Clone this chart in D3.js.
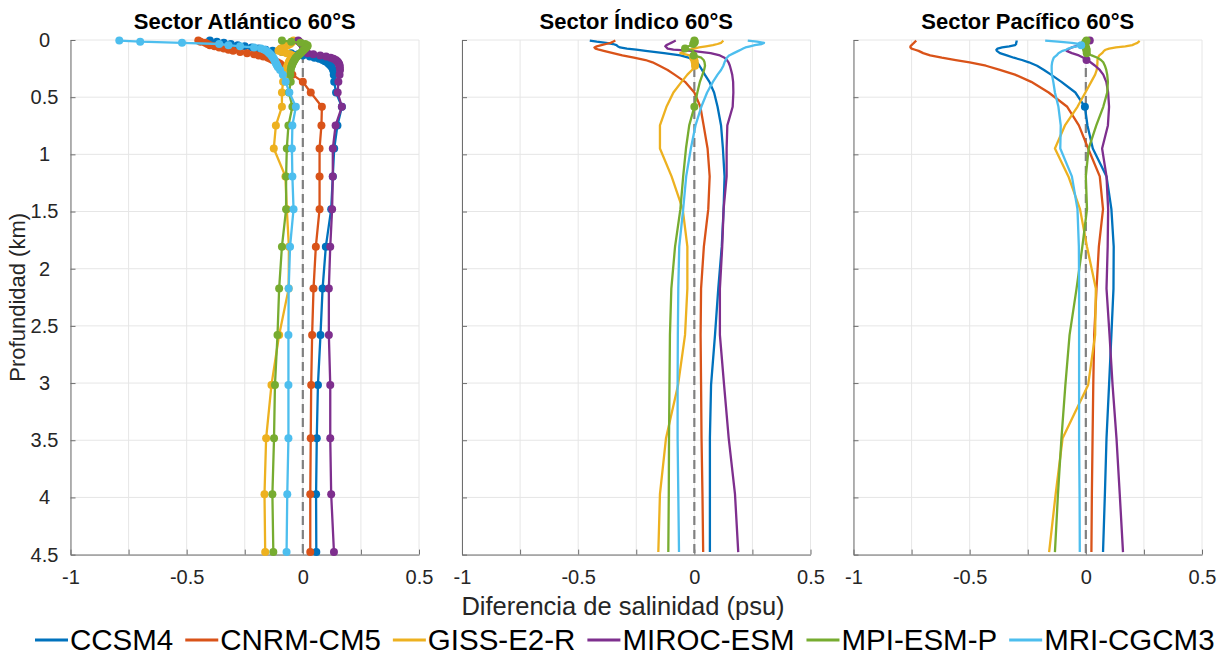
<!DOCTYPE html>
<html>
<head>
<meta charset="utf-8">
<script src="https://cdn.jsdelivr.net/npm/d3@7"></script>
<style>
  body { margin: 0; background: #fff; }
  svg { display: block; font-family: "Liberation Sans", Arial, Helvetica, sans-serif; }
</style>
</head>
<body>
<svg id="chart" width="1228" height="658"></svg>
<script>
// Model names and their line colours
const models = ["CCSM4", "CNRM-CM5", "GISS-E2-R", "MIROC-ESM", "MPI-ESM-P", "MRI-CGCM3"];
const colors = ["#0072BD", "#D95319", "#EDB120", "#7E2F8E", "#77AC30", "#4DBEEE"];
const panelTitles = ["Sector Atlántico 60°S", "Sector Índico 60°S", "Sector Pacífico 60°S"];

// Axis ticks
const xTicks = [-1, -0.75, -0.5, -0.25, 0, 0.25, 0.5];
const xTickLabels = ["-1", "", "-0.5", "", "0", "", "0.5"];
const yTicks = [0, 0.5, 1, 1.5, 2, 2.5, 3, 3.5, 4, 4.5];
const yTickLabels = ["0", "0.5", "1", "1.5", "2", "2.5", "3", "3.5", "4", "4.5"];

// Depth levels (km)
const depthA = [0.005, 0.015, 0.025, 0.035, 0.045, 0.055, 0.065, 0.075, 0.085, 0.095,
  0.105, 0.115, 0.125, 0.135, 0.145, 0.155, 0.165, 0.175, 0.185, 0.195,
  0.205, 0.215, 0.225, 0.238, 0.262, 0.303, 0.366, 0.459, 0.584, 0.747,
  0.949, 1.193, 1.479, 1.807, 2.174, 2.579, 3.016, 3.483, 3.972, 4.478];
const depthB = [0.005, 0.015, 0.025, 0.035, 0.045, 0.055, 0.065, 0.075, 0.085, 0.095,
  0.115, 0.135, 0.155, 0.175, 0.195, 0.225, 0.262, 0.303, 0.366, 0.459,
  0.584, 0.747, 0.949, 1.193, 1.479, 1.807, 2.174, 2.579, 3.016, 3.483, 3.972, 4.478];

// Salinity difference (psu), Atlantic sector, one row per model (depthA)
const atlantico = [
  [-0.40,-0.37,-0.34,-0.31,-0.28,-0.25,-0.22,-0.19,-0.16,-0.13,-0.09,-0.05,-0.02,0.00,0.03,0.05,0.07,0.085,0.095,0.105,0.11,0.115,0.12,0.125,0.13,0.133,0.135,0.143,0.168,0.149,0.135,0.129,0.122,0.099,0.085,0.076,0.065,0.060,0.057,0.058],
  [-0.45,-0.44,-0.42,-0.41,-0.40,-0.38,-0.36,-0.34,-0.32,-0.30,-0.27,-0.24,-0.21,-0.19,-0.17,-0.15,-0.14,-0.13,-0.12,-0.11,-0.10,-0.095,-0.09,-0.08,-0.065,-0.045,0.0,0.034,0.082,0.080,0.072,0.072,0.072,0.056,0.046,0.040,0.036,0.034,0.032,0.032],
  [-0.04,-0.045,-0.05,-0.055,-0.065,-0.075,-0.085,-0.095,-0.10,-0.105,-0.09,-0.07,-0.055,-0.045,-0.042,-0.045,-0.05,-0.055,-0.058,-0.06,-0.062,-0.064,-0.066,-0.068,-0.072,-0.078,-0.085,-0.090,-0.090,-0.116,-0.125,-0.075,-0.069,-0.060,-0.061,-0.102,-0.135,-0.158,-0.165,-0.162],
  [-0.02,-0.015,-0.01,-0.005,0.0,0.0,0.005,0.005,0.005,0.008,0.01,0.02,0.045,0.075,0.10,0.12,0.132,0.142,0.148,0.152,0.155,0.157,0.158,0.159,0.160,0.158,0.153,0.150,0.168,0.141,0.129,0.129,0.126,0.118,0.112,0.112,0.118,0.118,0.122,0.134],
  [-0.09,-0.05,-0.01,0.01,0.02,0.02,0.015,0.01,0.005,0.0,-0.005,-0.01,-0.015,-0.02,-0.025,-0.03,-0.033,-0.036,-0.039,-0.042,-0.044,-0.046,-0.048,-0.05,-0.052,-0.054,-0.052,-0.060,-0.045,-0.062,-0.069,-0.072,-0.072,-0.090,-0.102,-0.109,-0.120,-0.124,-0.131,-0.127],
  [-0.79,-0.70,-0.52,-0.36,-0.32,-0.27,-0.21,-0.18,-0.165,-0.157,-0.15,-0.145,-0.14,-0.135,-0.132,-0.128,-0.125,-0.122,-0.12,-0.118,-0.115,-0.113,-0.11,-0.107,-0.098,-0.086,-0.074,-0.058,-0.030,-0.045,-0.047,-0.045,-0.040,-0.055,-0.061,-0.062,-0.062,-0.062,-0.067,-0.070]
];

// Indian sector (depthB)
const indico = [
  [-0.45,-0.42,-0.38,-0.35,-0.335,-0.33,-0.32,-0.29,-0.25,-0.21,-0.13,-0.06,-0.025,0.0,0.012,0.022,0.033,0.045,0.065,0.085,0.10,0.115,0.123,0.13,0.126,0.118,0.103,0.089,0.072,0.067,0.067,0.067],
  [-0.34,-0.35,-0.36,-0.38,-0.40,-0.42,-0.43,-0.425,-0.41,-0.39,-0.35,-0.31,-0.26,-0.21,-0.18,-0.15,-0.115,-0.085,-0.04,0.0,0.026,0.04,0.057,0.066,0.06,0.041,0.029,0.027,0.029,0.031,0.035,0.038],
  [0.125,0.12,0.115,0.10,0.08,0.05,0.02,0.0,-0.02,-0.04,-0.06,-0.02,-0.005,0.0,0.002,0.003,-0.01,-0.03,-0.055,-0.09,-0.12,-0.148,-0.148,-0.098,-0.05,-0.03,-0.03,-0.04,-0.07,-0.122,-0.148,-0.155],
  [-0.08,-0.09,-0.10,-0.11,-0.12,-0.125,-0.12,-0.115,-0.09,-0.01,0.07,0.11,0.13,0.14,0.147,0.153,0.158,0.163,0.167,0.168,0.165,0.142,0.139,0.139,0.126,0.12,0.11,0.11,0.128,0.148,0.175,0.189],
  [0.0,0.002,0.0,-0.005,-0.012,-0.025,-0.035,-0.04,-0.02,-0.005,-0.005,-0.003,0.03,0.04,0.044,0.046,0.042,0.035,0.024,0.013,0.0,-0.022,-0.036,-0.048,-0.06,-0.083,-0.099,-0.105,-0.107,-0.109,-0.11,-0.112],
  [0.23,0.27,0.30,0.29,0.26,0.24,0.22,0.21,0.20,0.19,0.17,0.15,0.14,0.135,0.13,0.125,0.115,0.10,0.08,0.055,0.03,0.005,-0.015,-0.035,-0.048,-0.065,-0.069,-0.071,-0.072,-0.072,-0.069,-0.066]
];

// Pacific sector (depthB)
const pacifico = [
  [-0.298,-0.298,-0.30,-0.30,-0.305,-0.33,-0.36,-0.38,-0.385,-0.383,-0.37,-0.34,-0.31,-0.275,-0.245,-0.21,-0.18,-0.15,-0.105,-0.045,-0.004,0.007,0.03,0.089,0.11,0.12,0.119,0.11,0.10,0.089,0.082,0.074],
  [-0.73,-0.735,-0.74,-0.745,-0.75,-0.755,-0.755,-0.75,-0.735,-0.72,-0.70,-0.67,-0.62,-0.56,-0.50,-0.43,-0.37,-0.305,-0.235,-0.16,-0.08,-0.03,0.01,0.06,0.074,0.056,0.046,0.036,0.032,0.029,0.026,0.024],
  [0.23,0.228,0.222,0.21,0.20,0.17,0.13,0.10,0.085,0.078,0.07,0.058,0.052,0.05,0.05,0.049,0.047,0.04,0.023,-0.002,-0.036,-0.09,-0.133,-0.075,-0.025,0.005,0.043,0.04,0.01,-0.10,-0.13,-0.158],
  [0.017,0.005,-0.01,-0.02,-0.028,-0.045,-0.06,-0.07,-0.08,-0.083,-0.06,-0.03,-0.01,0.003,0.02,0.04,0.06,0.075,0.088,0.096,0.10,0.095,0.07,0.089,0.096,0.094,0.089,0.102,0.115,0.132,0.146,0.16],
  [0.003,0.0,-0.003,-0.005,-0.004,-0.002,0.0,0.002,0.003,0.003,0.004,0.025,0.05,0.065,0.075,0.082,0.088,0.092,0.095,0.092,0.075,0.045,0.012,0.0,0.005,-0.015,-0.04,-0.07,-0.088,-0.105,-0.12,-0.133],
  [-0.175,-0.12,-0.06,-0.03,-0.02,-0.04,-0.06,-0.075,-0.085,-0.10,-0.118,-0.126,-0.138,-0.142,-0.145,-0.147,-0.147,-0.146,-0.14,-0.133,-0.118,-0.108,-0.11,-0.06,-0.036,-0.03,-0.029,-0.029,-0.029,-0.029,-0.027,-0.026]
];

// Level indices that carry a marker in the Indian and Pacific panels
const indicoMarks = [[], [], [12, 13, 14, 15], [], [0, 1, 2, 3, 7, 11, 20], []];
const pacificoMarks = [[20], [], [], [0, 13], [0, 1, 2, 3, 4, 5, 6, 7, 8, 9, 10], [4]];

const panels = [
  { title: panelTitles[0], depth: depthA, values: atlantico, marks: null },
  { title: panelTitles[1], depth: depthB, values: indico, marks: indicoMarks },
  { title: panelTitles[2], depth: depthB, values: pacifico, marks: pacificoMarks }
];

const svg = d3.select("#chart");
const lefts = [70.5, 462, 853.5];
const pw = 348.5;
const plotTop = 40, plotBottom = 554.6;
const tickFont = 20;
const labelFont = 22;
const fontFamily = '"Liberation Sans", Arial, sans-serif';

const y = d3.scaleLinear().domain([0, 4.5]).range([plotTop, plotBottom]);

panels.forEach((p, pi) => {
  const x = d3.scaleLinear().domain([-1, 0.5]).range([lefts[pi], lefts[pi] + pw]);
  const g = svg.append("g");

  // grid
  g.selectAll("line.gx").data(xTicks).join("line")
    .attr("x1", d => x(d)).attr("x2", d => x(d))
    .attr("y1", plotTop).attr("y2", plotBottom)
    .attr("stroke", "#e6e6e6").attr("stroke-width", 1);
  g.selectAll("line.gy").data(yTicks).join("line")
    .attr("x1", x(-1)).attr("x2", x(0.5))
    .attr("y1", d => y(d)).attr("y2", d => y(d))
    .attr("stroke", "#e6e6e6").attr("stroke-width", 1);

  // axes (inward ticks, no box)
  const xAxis = d3.axisBottom(x).tickValues(xTicks)
    .tickFormat((d, i) => xTickLabels[i]).tickSizeInner(-5).tickSizeOuter(0).tickPadding(15);
  const ax = g.append("g").attr("transform", `translate(0,${plotBottom})`).call(xAxis);
  ax.select(".domain").attr("stroke", "#6e6e6e");
  ax.selectAll(".tick line").attr("stroke", "#6e6e6e");
  ax.selectAll("text").attr("font-size", tickFont).attr("fill", "#262626")
    .attr("font-family", fontFamily);

  const yAxis = d3.axisLeft(y).tickValues(yTicks)
    .tickFormat((d, i) => pi === 0 ? yTickLabels[i] : "").tickSizeInner(-5).tickSizeOuter(0).tickPadding(26);
  const ay = g.append("g").attr("transform", `translate(${lefts[pi]},0)`).call(yAxis);
  ay.select(".domain").attr("stroke", "#6e6e6e");
  ay.selectAll(".tick line").attr("stroke", "#6e6e6e");
  // depth labels sit centred in the margin column
  ay.selectAll("text").attr("font-size", tickFont).attr("fill", "#262626")
    .attr("font-family", fontFamily).attr("text-anchor", "middle");

  // zero reference
  g.append("line")
    .attr("x1", x(0)).attr("x2", x(0)).attr("y1", y(0)).attr("y2", y(4.5))
    .attr("stroke", "#808080").attr("stroke-width", 2.2).attr("stroke-dasharray", "9,5");

  const line = d3.line().x(d => x(d[0])).y(d => y(d[1]));

  p.values.forEach((vals, mi) => {
    const pts = vals.map((v, k) => [v, p.depth[k]]);
    g.append("path").datum(pts)
      .attr("d", line).attr("fill", "none")
      .attr("stroke", colors[mi]).attr("stroke-width", 2.3)
      .attr("stroke-linejoin", "round");
    const mk = p.marks ? p.marks[mi].map(k => pts[k]) : pts;
    g.selectAll(null).data(mk).join("circle")
      .attr("cx", d => x(d[0])).attr("cy", d => y(d[1])).attr("r", 4)
      .attr("fill", colors[mi]);
  });

  // title
  svg.append("text")
    .attr("x", lefts[pi] + pw / 2).attr("y", 29)
    .attr("text-anchor", "middle").attr("font-weight", "bold")
    .attr("font-size", labelFont).attr("fill", "#000")
    .text(p.title);
});

// axis titles
svg.append("text")
  .attr("x", 623).attr("y", 615)
  .attr("text-anchor", "middle").attr("font-size", 25.5).attr("fill", "#262626")
  .text("Diferencia de salinidad (psu)");
svg.append("text")
  .attr("transform", `translate(25,${(plotTop + plotBottom) / 2}) rotate(-90)`)
  .attr("text-anchor", "middle").attr("font-size", labelFont).attr("fill", "#262626")
  .text("Profundidad (km)");

// legend
const legend = svg.append("g").attr("transform", "translate(35,640)");
let lx = 0;
models.forEach((m, i) => {
  const item = legend.append("g").attr("transform", `translate(${lx},0)`);
  item.append("line").attr("x1", 0).attr("x2", 33).attr("y1", 0).attr("y2", 0)
    .attr("stroke", colors[i]).attr("stroke-width", 3);
  const t = item.append("text").attr("x", 35).attr("y", 10)
    .attr("font-size", 29.5).attr("fill", "#000").text(m);
  lx += 35 + t.node().getComputedTextLength() + 12;
});
</script>
</body>
</html>
